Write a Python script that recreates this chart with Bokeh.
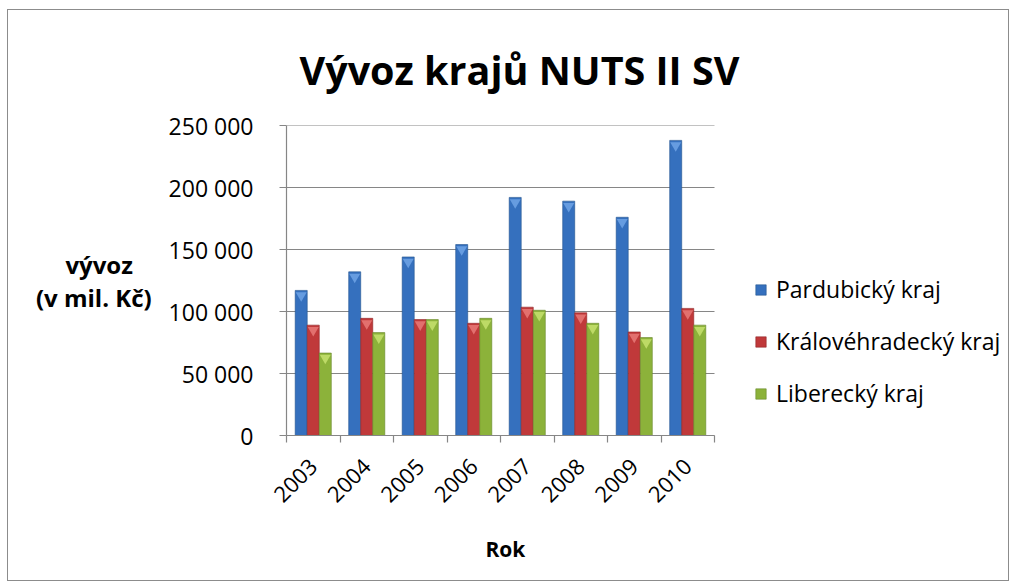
from bokeh.plotting import figure
from bokeh.models import ColumnDataSource, FixedTicker, Range1d, Legend, LegendItem, Title
from bokeh.embed import file_html
from bokeh.resources import INLINE
import math

years = ["2003", "2004", "2005", "2006", "2007", "2008", "2009", "2010"]
series_names = ["Pardubický kraj", "Královéhradecký kraj", "Liberecký kraj"]
pardubicky = [117000, 132000, 144000, 154000, 192000, 189000, 176000, 238000]
kralovehradecky = [89000, 94500, 93500, 90500, 103500, 99000, 83500, 102500]
liberecky = [66500, 83000, 93500, 94500, 101000, 90500, 79000, 89000]
y_ticks = [0, 50000, 100000, 150000, 200000, 250000]
y_tick_labels = ["0", "50 000", "100 000", "150 000", "200 000", "250 000"]

colors = ["#3570BE", "#C0393A", "#8CB23A"]
edges = ["#24548F", "#8E2526", "#66862A"]
tops = ["#6FA3E6", "#E77A78", "#C6E06E"]
FONT = "Open Sans"
GRID = "#868686"

n = len(years)
FRAME_W = 714          # plotting frame incl. legend area (px)
PLOT_W = 428           # width used by the categories (px)
FRAME_H = 311
y_max = 250000
x_end = n * FRAME_W / PLOT_W

p = figure(width=1002, height=572, output_backend="svg", toolbar_location=None,
           x_range=Range1d(0, x_end), y_range=Range1d(0, y_max),
           min_border_left=278, min_border_right=10, min_border_top=115, min_border_bottom=146)
p.styles = {"border": "1px solid #8c8c8c", "margin-left": "7px", "margin-top": "9px"}
p.outline_line_color = None
p.background_fill_color = "white"

p.title.text = "Vývoz krajů NUTS II SV"
p.title.text_font = FONT
p.title.text_font_size = "39.5px"
p.title.text_font_style = "bold"
p.title.align = "left"
p.title.offset = 13
p.title.standoff = 57
p.title.text_color = "black"

# horizontal grid lines limited to the category area
p.xgrid.visible = False
p.ygrid.visible = False
gsrc = ColumnDataSource(dict(x0=[0] * len(y_ticks), x1=[n] * len(y_ticks), y=y_ticks))
p.segment(x0="x0", y0="y", x1="x1", y1="y", source=gsrc, line_color=GRID, line_width=1.2)

bw = 0.225
offsets = [-bw, 0.0, bw]
all_series = [pardubicky, kralovehradecky, liberecky]
items = []
tri_shift = 5 * y_max / FRAME_H
for k, vals in enumerate(all_series):
    xs = [i + 0.5 + offsets[k] for i in range(n)]
    src = ColumnDataSource(dict(x=xs, top=vals, tri=[v - tri_shift for v in vals]))
    r = p.vbar(x="x", top="top", width=bw, source=src, fill_color=colors[k],
               line_color=edges[k], line_width=0.6)
    p.scatter(x="x", y="tri", source=src, marker="inverted_triangle", size=11,
              fill_color=tops[k], line_color=None, fill_alpha=0.85)
    items.append(LegendItem(label=series_names[k], renderers=[r]))

# y axis
p.yaxis.ticker = FixedTicker(ticks=y_ticks)
p.yaxis.major_label_overrides = {t: l for t, l in zip(y_ticks, y_tick_labels)}
p.yaxis.major_label_text_font = FONT
p.yaxis.major_label_text_font_size = "23px"
p.yaxis.major_label_text_color = "black"
p.yaxis.major_label_standoff = 26
p.yaxis.axis_line_color = GRID
p.yaxis.axis_line_width = 1.2
p.yaxis.major_tick_line_color = GRID
p.yaxis.major_tick_out = 7
p.yaxis.major_tick_in = 0
p.yaxis.minor_tick_line_color = None
p.yaxis.axis_label = "vývoz\u00a0\u00a0\u00a0\n(v mil. Kč)"
p.yaxis.axis_label_orientation = "horizontal"
p.yaxis.axis_label_text_font = FONT
p.yaxis.axis_label_text_font_size = "24px"
p.yaxis.axis_label_text_font_style = "bold"
p.yaxis.axis_label_text_color = "black"
p.yaxis.axis_label_text_line_height = 1.0
p.yaxis.axis_label_standoff = 14

# x axis
centers = [i + 0.5 for i in range(n)]
bounds = [i for i in range(n + 1)]
p.xaxis.bounds = (0, n)
p.xaxis.ticker = FixedTicker(ticks=centers, minor_ticks=bounds)
p.xaxis.major_label_overrides = {c: y for c, y in zip(centers, years)}
p.xaxis.major_label_orientation = math.pi / 4
p.xaxis.major_label_text_font = FONT
p.xaxis.major_label_text_font_size = "22px"
p.xaxis.major_label_text_color = "black"
p.xaxis.major_label_standoff = 20
p.xaxis.major_tick_line_color = None
p.xaxis.minor_tick_line_color = GRID
p.xaxis.minor_tick_out = 7
p.xaxis.minor_tick_in = 0
p.xaxis.minor_tick_line_width = 1.2
p.xaxis.axis_line_color = GRID
p.xaxis.axis_line_width = 1.2

rok = Title(text="Rok", align="left", offset=PLOT_W / 2 - 15, standoff=40,
            text_font=FONT, text_font_size="21px", text_font_style="bold", text_color="black")
p.add_layout(rok, "below")

legend = Legend(items=items, location=(468, 26), padding=0, margin=0,
                border_line_color=None, background_fill_alpha=0,
                glyph_width=13, glyph_height=13, label_height=26, spacing=20,
                label_standoff=9, label_text_font=FONT, label_text_font_size="23px",
                label_text_color="black")
p.add_layout(legend, "center")

open("out.html", "w").write(file_html(p, INLINE))
